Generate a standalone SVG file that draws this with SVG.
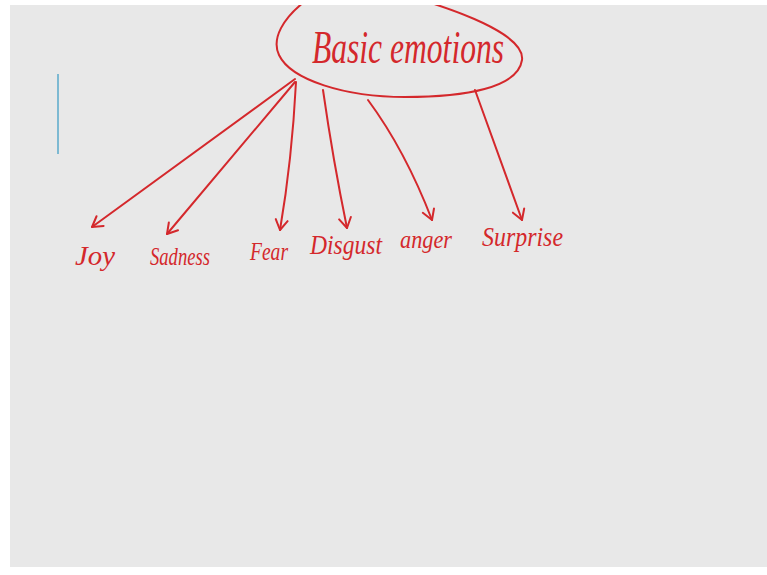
<svg xmlns="http://www.w3.org/2000/svg" width="767" height="575" viewBox="0 0 767 575">
  <style>
    .ink { fill: none; stroke: #d4282c; stroke-width: 2; stroke-linecap: round; stroke-linejoin: round; }
    .label { fill: #d4282c; font-family: "Liberation Serif", "DejaVu Serif", serif; font-style: italic; }
  </style>
  <defs>
    <marker id="head" markerUnits="userSpaceOnUse" markerWidth="20" markerHeight="20" refX="0" refY="0" viewBox="-12 -10 14 20" orient="auto">
      <path d="M-10,-6 L0,0 L-10,6" fill="none" stroke="#d4282c" stroke-width="2" stroke-linecap="round" stroke-linejoin="round"/>
    </marker>
    <clipPath id="board">
      <rect x="10" y="5" width="757" height="562"/>
    </clipPath>
  </defs>

  <!-- page and board -->
  <rect x="0" y="0" width="767" height="575" fill="#ffffff"/>
  <rect x="10" y="5" width="757" height="562" fill="#e8e8e8"/>

  <!-- text cursor -->
  <line x1="58" y1="74" x2="58" y2="154" stroke="#7db9d2" stroke-width="2"/>

  <!-- root node -->
  <g id="basic-emotions" clip-path="url(#board)">
    <path class="ink" d="M304,2 C284,18 271,38 279,55 C291,80 345,97 405,97 C465,97 518,88 522,60 C524,45 500,25 428,2"/>
    <text class="label" x="312" y="63" font-size="46" textLength="192" lengthAdjust="spacingAndGlyphs">Basic emotions</text>
  </g>

  <!-- connectors -->
  <g id="connectors">
    <path class="ink" d="M295,79 L92,227" marker-end="url(#head)"/>
    <path class="ink" d="M295,82 L167,234" marker-end="url(#head)"/>
    <path class="ink" d="M296,82 Q292,160 280,230" marker-end="url(#head)"/>
    <path class="ink" d="M323,90 Q333,160 347,228" marker-end="url(#head)"/>
    <path class="ink" d="M368,100 Q405,150 432,220" marker-end="url(#head)"/>
    <path class="ink" d="M475,90 Q500,160 522,220" marker-end="url(#head)"/>
  </g>

  <!-- leaf nodes -->
  <g id="joy">
    <text class="label" x="75" y="265" font-size="28" textLength="40" lengthAdjust="spacingAndGlyphs">Joy</text>
  </g>
  <g id="sadness">
    <text class="label" x="150" y="265" font-size="26" textLength="60" lengthAdjust="spacingAndGlyphs">Sadness</text>
  </g>
  <g id="fear">
    <text class="label" x="250" y="260" font-size="26" textLength="38" lengthAdjust="spacingAndGlyphs">Fear</text>
  </g>
  <g id="disgust">
    <text class="label" x="310" y="254" font-size="27" textLength="72" lengthAdjust="spacingAndGlyphs">Disgust</text>
  </g>
  <g id="anger">
    <text class="label" x="400" y="248" font-size="26" textLength="52" lengthAdjust="spacingAndGlyphs">anger</text>
  </g>
  <g id="surprise">
    <text class="label" x="482" y="246" font-size="27" textLength="81" lengthAdjust="spacingAndGlyphs">Surprise</text>
  </g>
</svg>
